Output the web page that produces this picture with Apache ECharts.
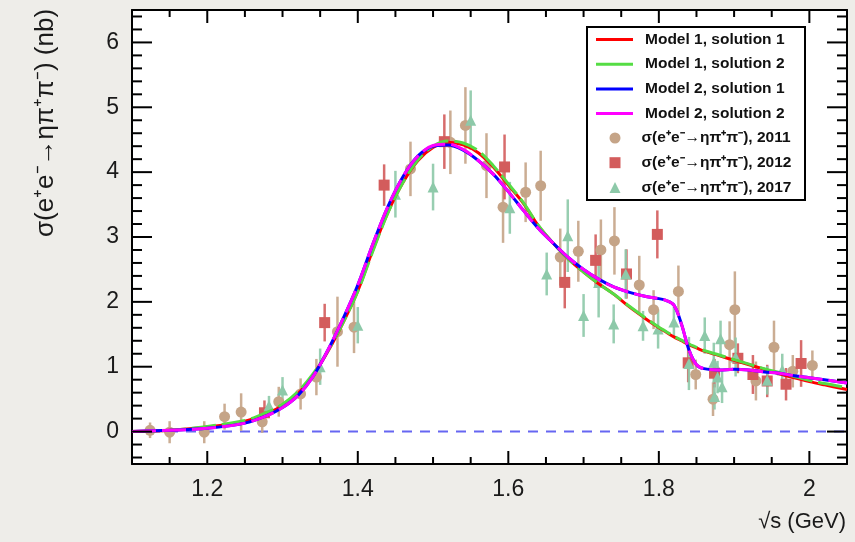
<!DOCTYPE html>
<html><head><meta charset="utf-8">
<script src="https://cdn.jsdelivr.net/npm/echarts@6/dist/echarts.min.js"></script>
<style>html,body{margin:0;padding:0;background:#eeede9}#c{width:855px;height:542px}</style>
</head><body><div id="c"></div><script>
// ---- data ----
const xMajorTicks = [1.2, 1.4, 1.6, 1.8, 2.0];
const yMajorTicks = [0, 1, 2, 3, 4, 5, 6];

const modelX = [1.10,1.15,1.20,1.25,1.28,1.30,1.32,1.34,1.36,1.38,1.40,1.42,1.44,1.46,1.48,1.50,1.52,1.54,1.56,1.58,1.60,1.62,1.64,1.66,1.68,1.70,1.72,1.74,1.76,1.78,1.80,1.81,1.82,1.83,1.84,1.85,1.86,1.88,1.90,1.92,1.94,1.96,1.98,2.00,2.02,2.05];
const m1s1 = [0.00,0.02,0.07,0.16,0.28,0.40,0.58,0.86,1.23,1.67,2.17,2.80,3.38,3.84,4.18,4.38,4.46,4.42,4.30,4.08,3.80,3.52,3.17,2.90,2.66,2.46,2.28,2.12,1.93,1.76,1.60,1.53,1.46,1.40,1.34,1.29,1.24,1.17,1.10,1.03,0.96,0.89,0.83,0.77,0.72,0.65];
const m1s2 = [0.00,0.02,0.08,0.17,0.30,0.42,0.61,0.88,1.24,1.67,2.16,2.78,3.37,3.84,4.19,4.40,4.48,4.45,4.33,4.10,3.82,3.53,3.18,2.90,2.66,2.46,2.28,2.12,1.94,1.77,1.61,1.54,1.47,1.41,1.35,1.30,1.25,1.18,1.11,1.04,0.97,0.91,0.85,0.79,0.74,0.68];
const m2s1 = [0.00,0.02,0.05,0.13,0.25,0.37,0.55,0.84,1.25,1.73,2.26,2.89,3.47,3.93,4.25,4.40,4.42,4.34,4.18,3.97,3.70,3.41,3.13,2.90,2.68,2.50,2.35,2.23,2.15,2.09,2.05,2.02,1.95,1.66,1.26,1.03,0.97,0.95,0.96,0.95,0.92,0.90,0.86,0.83,0.80,0.75];
const m2s2 = [0.00,0.02,0.05,0.13,0.25,0.37,0.55,0.84,1.25,1.73,2.26,2.89,3.47,3.93,4.25,4.41,4.43,4.35,4.18,3.97,3.70,3.41,3.13,2.90,2.68,2.50,2.35,2.23,2.15,2.09,2.05,2.02,1.95,1.66,1.26,1.03,0.97,0.95,0.96,0.95,0.92,0.90,0.86,0.83,0.80,0.75];

const x2011 = [1.124,1.150,1.196,1.223,1.245,1.273,1.295,1.324,1.345,1.373,1.395,1.470,1.523,1.543,1.571,1.593,1.623,1.643,1.669,1.693,1.723,1.741,1.774,1.793,1.826,1.849,1.872,1.894,1.901,1.929,1.953,1.978,2.004];
const y2011 = [0.02,-0.01,-0.01,0.23,0.30,0.15,0.46,0.58,0.84,1.54,1.61,4.05,4.46,4.72,4.10,3.46,3.69,3.79,2.69,2.78,2.80,2.94,2.26,1.88,2.16,0.88,0.50,1.34,1.88,0.78,1.30,0.93,1.02];
const e2011 = [0.12,0.17,0.17,0.20,0.29,0.17,0.23,0.24,0.28,0.54,0.40,0.42,0.49,0.59,0.50,0.55,0.46,0.54,0.44,0.47,0.47,0.52,0.45,0.30,0.40,0.23,0.26,0.36,0.59,0.30,0.41,0.25,0.23];

const x2012 = [1.276,1.356,1.435,1.515,1.595,1.675,1.716,1.757,1.798,1.839,1.874,1.905,1.925,1.944,1.969,1.989];
const y2012 = [0.29,1.68,3.80,4.47,4.08,2.30,2.64,2.43,3.04,1.06,0.90,1.13,0.88,0.78,0.73,1.05];
const e2012 = [0.19,0.29,0.32,0.42,0.50,0.40,0.40,0.38,0.37,0.30,0.22,0.23,0.30,0.25,0.25,0.36];

const x2017 = [1.282,1.300,1.350,1.400,1.450,1.500,1.550,1.602,1.651,1.679,1.700,1.720,1.740,1.756,1.779,1.799,1.820,1.840,1.861,1.873,1.874,1.878,1.882,1.884,1.902,1.944,1.964];
const y2017 = [0.40,0.64,1.00,1.64,3.66,3.77,4.80,3.45,2.43,3.02,1.79,2.30,1.66,2.43,1.63,1.58,1.69,1.05,1.48,1.07,0.54,0.84,1.43,0.69,1.15,0.79,0.95];
const e2017 = [0.15,0.20,0.28,0.28,0.36,0.36,0.46,0.40,0.33,0.56,0.33,0.54,0.30,0.38,0.23,0.30,0.23,0.41,0.28,0.30,0.20,0.25,0.28,0.25,0.30,0.22,0.25];

const lineNames = ['Model 1, solution 1','Model 1, solution 2','Model 2, solution 1','Model 2, solution 2'];
const dataNames = ['σ(e⁺e⁻→ηπ⁺π⁻), 2011','σ(e⁺e⁻→ηπ⁺π⁻), 2012','σ(e⁺e⁻→ηπ⁺π⁻), 2017'];

// ---- helpers ----
const X_MIN = 1.1, X_MAX = 2.05, Y_MIN = -0.5, Y_MAX = 6.5;
const xMinorTicks = []; for (let i = 23; i <= 40; i++) { const v = +(i * 0.05).toFixed(2); if (i % 4 !== 0) xMinorTicks.push(v); }
const yMinorTicks = []; for (let i = -2; i <= 32; i++) { if (i % 5 !== 0) yMinorTicks.push(+(i * 0.2).toFixed(1)); }
const zip = (xs, ys) => xs.map((x, i) => [x, ys[i]]);
const zip3 = (xs, ys, es) => xs.map((x, i) => [x, ys[i], es[i]]);
const FONT = 'Liberation Sans, Helvetica, Arial, sans-serif';
const C2011 = '#c5a487', C2012 = '#d35c5c', C2017 = '#8dc9a9';

// tick rows: [x, y, length, kind]  kind 0 = x-axis tick, 1 = y-axis tick
const tickRows = []
  .concat(xMajorTicks.map(v => [v, Y_MIN, 13, 0]))
  .concat(xMinorTicks.map(v => [v, Y_MIN, 7, 0]))
  .concat(yMajorTicks.map(v => [X_MIN, v, 20, 1]))
  .concat(yMinorTicks.map(v => [X_MIN, v, 10, 1]));

function errSeries(name, data, color) {
  return {
    type: 'custom', name: name + ' err', data: data, z: 2, silent: true,
    encode: { x: 0, y: 1 },
    renderItem: (params, api) => {
      const x = api.value(0), y = api.value(1), e = api.value(2);
      const p1 = api.coord([x, y - e]), p2 = api.coord([x, y + e]);
      return { type: 'line', shape: { x1: p1[0], y1: p1[1], x2: p2[0], y2: p2[1] },
        style: { stroke: color, lineWidth: 2.5, opacity: 0.9 } };
    }
  };
}
function ptSeries(name, data, color, symbol) {
  return { type: 'scatter', name: name, data: data, symbol: symbol, symbolSize: 11, z: 3,
    itemStyle: { color: color, opacity: 1 } };
}
function curve(name, data, color, dashed, z) {
  return { type: 'line', name: name, data: data, symbol: 'none', smooth: 0.35, z: z,
    lineStyle: { color: color, width: 3, type: dashed ? [24, 6] : 'solid' },
    itemStyle: { color: color } };
}

const blk = { color: '#000', width: 2 };
const xBase = { type: 'value', min: X_MIN, max: X_MAX, splitLine: { show: false }, axisTick: { show: false } };
const yBase = { type: 'value', min: Y_MIN, max: Y_MAX, splitLine: { show: false }, axisTick: { show: false } };

const chart = echarts.init(document.getElementById('c'));
chart.setOption({
  backgroundColor: '#eeede9',
  animation: false,
  grid: { left: 132, right: 8, top: 10, bottom: 78, show: true, backgroundColor: '#ffffff', borderWidth: 0 },
  xAxis: [
    Object.assign({}, xBase, { position: 'bottom', axisLine: { show: true, onZero: false, lineStyle: blk },
      axisLabel: { show: true, customValues: xMajorTicks, fontSize: 23, color: '#1a1a1a', fontFamily: FONT, margin: 14,
        formatter: v => String(+v.toFixed(1)) } }),
    Object.assign({}, xBase, { position: 'top', axisLine: { show: true, onZero: false, lineStyle: blk }, axisLabel: { show: false } })
  ],
  yAxis: [
    Object.assign({}, yBase, { position: 'left', axisLine: { show: true, onZero: false, lineStyle: blk },
      axisLabel: { show: true, customValues: yMajorTicks, fontSize: 23, color: '#1a1a1a', fontFamily: FONT, margin: 13 } }),
    Object.assign({}, yBase, { position: 'right', axisLine: { show: true, onZero: false, lineStyle: blk }, axisLabel: { show: false } })
  ],
  legend: [
    { orient: 'vertical', left: 596, top: 31.5, padding: 0, itemGap: 8.7, itemWidth: 37, itemHeight: 3,
      textStyle: { fontFamily: FONT, fontWeight: 'bold', fontSize: 15.5, color: '#111', lineHeight: 14, padding: [0, 0, 0, 7] },
      data: lineNames.map(n => ({ name: n, icon: 'rect' })) },
    { orient: 'vertical', left: 609.5, top: 130, padding: 0, itemGap: 8.7, itemWidth: 11, itemHeight: 11,
      textStyle: { fontFamily: FONT, fontWeight: 'bold', fontSize: 15.5, color: '#111', lineHeight: 14, padding: [0, 0, 0, 16] },
      data: dataNames }
  ],
  graphic: [
    { type: 'rect', z: 3, shape: { x: 587, y: 27, width: 218, height: 173 },
      style: { fill: '#ffffff', stroke: '#000', lineWidth: 2 } },
    { type: 'text', x: 46, y: 123, rotation: Math.PI / 2,
      style: { text: 'σ(e⁺e⁻→ηπ⁺π⁻) (nb)', font: '26px ' + FONT, fill: '#1a1a1a', align: 'center', verticalAlign: 'middle' } },
    { type: 'text', x: 846, y: 522,
      style: { text: '√s (GeV)', font: '22px ' + FONT, fill: '#1a1a1a', align: 'right', verticalAlign: 'middle' } }
  ],
  series: [
    { type: 'line', name: 'zero', data: [[X_MIN, 0], [X_MAX, 0]], symbol: 'none', z: 1, silent: true,
      lineStyle: { color: '#6666f2', width: 2, type: [10, 8] } },
    errSeries(dataNames[0], zip3(x2011, y2011, e2011), C2011),
    errSeries(dataNames[1], zip3(x2012, y2012, e2012), C2012),
    errSeries(dataNames[2], zip3(x2017, y2017, e2017), C2017),
    ptSeries(dataNames[0], zip(x2011, y2011), C2011, 'circle'),
    ptSeries(dataNames[1], zip(x2012, y2012), C2012, 'rect'),
    ptSeries(dataNames[2], zip(x2017, y2017), C2017, 'triangle'),
    curve(lineNames[0], zip(modelX, m1s1), '#ff0000', false, 5),
    curve(lineNames[1], zip(modelX, m1s2), '#55dd44', true, 6),
    curve(lineNames[2], zip(modelX, m2s1), '#0000ff', false, 7),
    curve(lineNames[3], zip(modelX, m2s2), '#ff00ff', true, 8),
    { type: 'custom', name: 'frame ticks', data: tickRows, z: 9, silent: true, clip: false,
      encode: { x: 0, y: 1 },
      renderItem: (params, api) => {
        const vx = api.value(0), vy = api.value(1), len = api.value(2), kind = api.value(3);
        let a, b;
        if (kind === 0) {
          a = api.coord([vx, Y_MIN]); b = api.coord([vx, Y_MAX]);
          return { type: 'group', children: [
            { type: 'line', shape: { x1: a[0], y1: a[1], x2: a[0], y2: a[1] - len }, style: { stroke: '#000', lineWidth: 2 } },
            { type: 'line', shape: { x1: b[0], y1: b[1], x2: b[0], y2: b[1] + len }, style: { stroke: '#000', lineWidth: 2 } } ] };
        }
        a = api.coord([X_MIN, vy]); b = api.coord([X_MAX, vy]);
        return { type: 'group', children: [
          { type: 'line', shape: { x1: a[0], y1: a[1], x2: a[0] + len, y2: a[1] }, style: { stroke: '#000', lineWidth: 2 } },
          { type: 'line', shape: { x1: b[0], y1: b[1], x2: b[0] - len, y2: b[1] }, style: { stroke: '#000', lineWidth: 2 } } ] };
      } }
  ]
});
</script></body></html>
